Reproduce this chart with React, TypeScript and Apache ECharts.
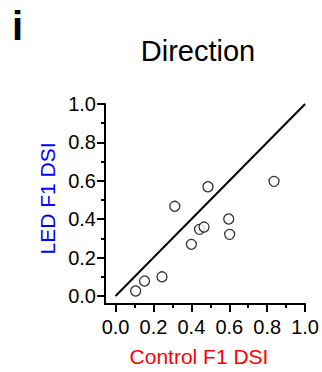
import React, { useEffect, useRef } from "react";
import * as echarts from "echarts";

const controlDSI = [0.106, 0.153, 0.245, 0.3125, 0.4, 0.443, 0.467, 0.4875, 0.597, 0.602, 0.836];
const ledDSI = [0.026, 0.078, 0.1, 0.467, 0.269, 0.347, 0.359, 0.569, 0.401, 0.321, 0.597];
const majorTicks = [0, 0.2, 0.4, 0.6, 0.8, 1.0];
const minorTicks = [0.1, 0.3, 0.5, 0.7, 0.9];
const unityLine = [0, 1];

const FONT = "'Liberation Sans', Arial, Helvetica, sans-serif";

export default function App() {
  const ref = useRef<HTMLDivElement>(null);
  useEffect(() => {
    if (!ref.current) return;
    const chart = echarts.init(ref.current, null, { renderer: "svg" });
    const xMin = -0.0557;
    const yMin = -0.0417;
    const axisBase = (min: number) => ({
      type: "value",
      min,
      max: 1,
      splitLine: { show: false },
    });
    chart.setOption({
      animation: false,
      backgroundColor: "#ffffff",
      grid: { left: 105, right: 14.3, top: 104, bottom: 68, containLabel: false },
      xAxis: [
        {
          ...axisBase(xMin),
          position: "bottom",
          axisLine: { show: true, onZero: false, lineStyle: { color: "#000", width: 2 } },
          axisTick: { show: true, inside: false, length: 8, customValues: majorTicks, lineStyle: { color: "#000", width: 2 } },
          axisLabel: {
            show: true,
            customValues: majorTicks,
            formatter: (v: number) => v.toFixed(1),
            color: "#000",
            fontSize: 20,
            fontFamily: FONT,
            margin: 13,
          },
        },
        {
          ...axisBase(xMin),
          position: "bottom",
          axisLine: { show: false, onZero: false },
          axisTick: { show: true, inside: false, length: 4, customValues: minorTicks, lineStyle: { color: "#000", width: 2 } },
          axisLabel: { show: false },
        },
      ],
      yAxis: [
        {
          ...axisBase(yMin),
          position: "left",
          axisLine: { show: true, onZero: false, lineStyle: { color: "#000", width: 2 } },
          axisTick: { show: true, inside: false, length: 8, customValues: majorTicks, lineStyle: { color: "#000", width: 2 } },
          axisLabel: {
            show: true,
            customValues: majorTicks,
            formatter: (v: number) => v.toFixed(1),
            color: "#000",
            fontSize: 20,
            fontFamily: FONT,
            margin: 9,
          },
        },
        {
          ...axisBase(yMin),
          position: "left",
          axisLine: { show: false, onZero: false },
          axisTick: { show: true, inside: false, length: 4, customValues: minorTicks, lineStyle: { color: "#000", width: 2 } },
          axisLabel: { show: false },
        },
      ],
      series: [
        {
          type: "line",
          data: unityLine.map((v) => [v, v]),
          showSymbol: false,
          symbol: "none",
          lineStyle: { color: "#000", width: 2 },
          silent: true,
        },
        {
          type: "scatter",
          data: controlDSI.map((x, i) => [x, ledDSI[i]]),
          symbol: "circle",
          symbolSize: 10,
          itemStyle: { color: "#fff", borderColor: "#000", borderWidth: 1.3 },
        },
      ],
      graphic: [
        {
          type: "text",
          style: { x: 12, y: 26, text: "i", fontSize: 40, fontWeight: "bold", fontFamily: FONT, fill: "#000", textVerticalAlign: "middle" },
        },
        {
          type: "text",
          style: { x: 198, y: 51, text: "Direction", fontSize: 29, fontFamily: FONT, fill: "#000", textAlign: "center", textVerticalAlign: "middle" },
        },
        {
          type: "text",
          x: 47.5,
          y: 198.5,
          rotation: Math.PI / 2,
          style: { x: 0, y: 0, text: "LED F1 DSI", fontSize: 21, fontFamily: FONT, fill: "#0000ff", textAlign: "center", textVerticalAlign: "middle" },
        },
        {
          type: "text",
          style: { x: 199, y: 356, text: "Control F1 DSI", fontSize: 21, fontFamily: FONT, fill: "#ff0000", textAlign: "center", textVerticalAlign: "middle" },
        },
      ],
    });
    return () => chart.dispose();
  }, []);
  return <div ref={ref} style={{ width: 322, height: 372, position: "absolute", left: 0, top: 0 }} />;
}
